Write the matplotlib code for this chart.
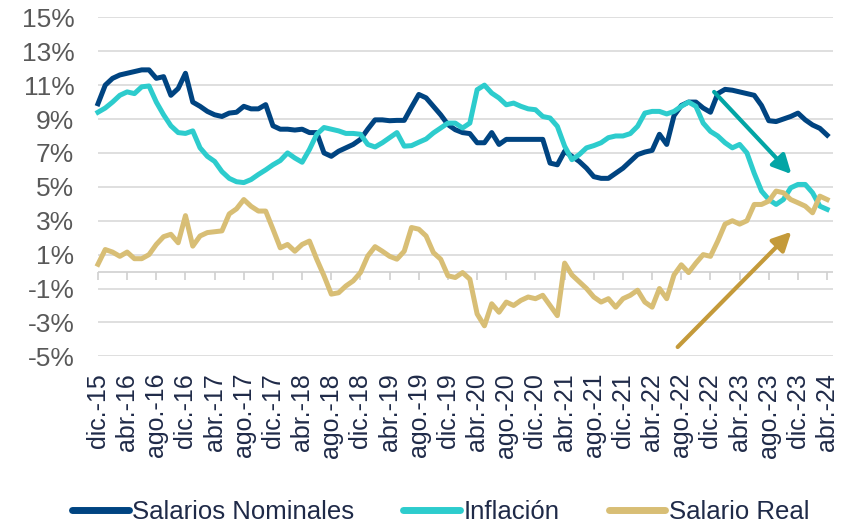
import numpy as np
import matplotlib.pyplot as plt

plt.rcParams['font.family'] = ['Liberation Sans', 'DejaVu Sans']

# monthly series, dic-15 .. abr-24
salarios_nominales = [
    9.9, 11.0, 11.4, 11.6, 11.7, 11.8, 11.9, 11.9, 11.4, 11.5,
    10.4, 10.8, 11.7, 10.0, 9.75, 9.45, 9.25, 9.15, 9.35, 9.4,
    9.75, 9.6, 9.6, 9.85, 8.6, 8.4, 8.4, 8.35, 8.4, 8.2,
    8.2, 7.0, 6.8, 7.1, 7.3, 7.5, 7.8, 8.4, 8.95, 8.95,
    8.9, 8.92, 8.92, 9.7, 10.45, 10.25, 9.75, 9.25, 8.67, 8.37,
    8.2, 8.14, 7.6, 7.6, 8.2, 7.5, 7.8, 7.8, 7.8, 7.8,
    7.8, 7.8, 6.4, 6.3, 7.1, 6.8, 6.5, 6.1, 5.6, 5.5,
    5.5, 5.8, 6.1, 6.5, 6.9, 7.05, 7.15, 8.1, 7.5, 9.2,
    9.8, 10.0, 10.0, 9.65, 9.4, 10.5, 10.75, 10.7, 10.6, 10.5,
    10.4, 9.8, 8.9, 8.85, 9.0, 9.15, 9.35, 8.95, 8.65, 8.45,
    8.05,
]
inflacion = [
    9.4, 9.65, 10.0, 10.4, 10.6, 10.5, 10.9, 10.95, 10.0, 9.25,
    8.6, 8.2, 8.15, 8.3, 7.3, 6.8, 6.5, 5.9, 5.5, 5.3,
    5.25, 5.43, 5.73, 6.0, 6.3, 6.55, 7.0, 6.7, 6.45, 7.2,
    8.1, 8.5, 8.4, 8.3, 8.15, 8.15, 8.1, 7.5, 7.35, 7.6,
    7.9, 8.2, 7.4, 7.43, 7.63, 7.82, 8.18, 8.47, 8.76, 8.76,
    8.47, 8.76, 10.73, 11.0, 10.53, 10.24, 9.84, 9.94, 9.75, 9.6,
    9.55, 9.15, 9.06, 8.57, 7.4, 6.6, 6.9, 7.3, 7.43, 7.6,
    7.9, 8.0, 8.0, 8.14, 8.57, 9.35, 9.45, 9.45, 9.3, 9.45,
    9.75, 10.0, 9.75, 8.76, 8.27, 8.0, 7.6, 7.3, 7.5, 7.0,
    5.8, 4.75, 4.25, 3.96, 4.25, 4.94, 5.14, 5.14, 4.65, 3.86,
    3.67,
]
salario_real = [
    0.43, 1.3, 1.15, 0.9, 1.15, 0.76, 0.76, 1.0, 1.6, 2.06,
    2.2, 1.7, 3.3, 1.5, 2.1, 2.3, 2.35, 2.4, 3.4, 3.7,
    4.25, 3.85, 3.57, 3.57, 2.5, 1.4, 1.6, 1.2, 1.6, 1.8,
    0.73, -0.25, -1.33, -1.25, -0.85, -0.55, -0.06, 0.92, 1.47, 1.2,
    0.9, 0.73, 1.2, 2.6, 2.5, 2.1, 1.12, 0.73, -0.25, -0.35,
    -0.06, -0.45, -2.5, -3.2, -1.9, -2.4, -1.8, -2.0, -1.7, -1.5,
    -1.6, -1.4, -2.0, -2.6, 0.5, -0.2, -0.6, -1.0, -1.5, -1.8,
    -1.6, -2.1, -1.6, -1.4, -1.1, -1.8, -2.1, -1.0, -1.6, -0.2,
    0.4, -0.06, 0.5, 1.0, 0.9, 1.8, 2.8, 3.0, 2.8, 3.0,
    3.96, 3.96, 4.16, 4.75, 4.65, 4.25, 4.06, 3.86, 3.47, 4.45,
    4.25,
]

tick_labels = [
    "dic.-15", "abr.-16", "ago.-16", "dic.-16", "abr.-17", "ago.-17",
    "dic.-17", "abr.-18", "ago.-18", "dic.-18", "abr.-19", "ago.-19",
    "dic.-19", "abr.-20", "ago.-20", "dic.-20", "abr.-21", "ago.-21",
    "dic.-21", "abr.-22", "ago.-22", "dic.-22", "abr.-23", "ago.-23",
    "dic.-23", "abr.-24",
]
y_ticks = [-5, -3, -1, 1, 3, 5, 7, 9, 11, 13, 15]

x = np.arange(len(salarios_nominales))
tick_pos = x[::4]

fig = plt.figure(figsize=(8.46, 5.22), dpi=100)
ax = fig.add_axes([0.1158, 0.3174, 0.8688, 0.6494])

ax.plot(x, salarios_nominales, color='#004481', lw=3.6,
        label='Salarios Nominales', clip_on=False, solid_joinstyle='round')
ax.plot(x, inflacion, color='#2dcccd', lw=3.6,
        label='Inflación', clip_on=False, solid_joinstyle='round')
ax.plot(x, salario_real, color='#d8be75', lw=3.6,
        label='Salario Real', clip_on=False, solid_joinstyle='round')

# arrows
ax.annotate('', xy=(95.1, 5.75), xytext=(84.5, 10.6),
            arrowprops=dict(arrowstyle='-|>', color='#02a5a5', lw=3,
                            mutation_scale=28, shrinkA=0, shrinkB=0))
ax.annotate('', xy=(95.1, 2.35), xytext=(79.5, -4.45),
            arrowprops=dict(arrowstyle='-|>', color='#c49a3a', lw=3,
                            mutation_scale=28, shrinkA=0, shrinkB=0))

ax.set_xlim(0, 100.8)
ax.set_ylim(-5, 15)
ax.set_yticks(y_ticks)
ax.set_yticklabels([f"{v}%" for v in y_ticks])
ax.set_xticks(tick_pos)
ax.set_xticklabels(tick_labels, rotation=90)

ax.grid(axis='y', color='#d9d9d9', lw=1.2)
ax.set_axisbelow(True)
for s in ax.spines.values():
    s.set_visible(False)

ax.tick_params(axis='y', length=0, pad=17, labelsize=19, labelcolor='#595959')
ax.tick_params(axis='x', length=0, pad=12, labelsize=18, labelcolor='#1f2a48')

# category axis line at 0 with tick marks
ax.axhline(0, color='#d0d0d0', lw=1.2, zorder=0.5)
ax.vlines(tick_pos, -0.47, 0, color='#d0d0d0', lw=1.2, zorder=0.5, clip_on=False)

leg = fig.legend(loc='center', bbox_to_anchor=(0.521, 0.02), ncol=3,
                 frameon=False, fontsize=18.5, handlelength=2.2,
                 handletextpad=0.15, columnspacing=1.9, labelcolor='#1f2a48')
for line in leg.get_lines():
    line.set_linewidth(5)
    line.set_solid_capstyle('round')

fig.savefig('out.png', dpi=100)
